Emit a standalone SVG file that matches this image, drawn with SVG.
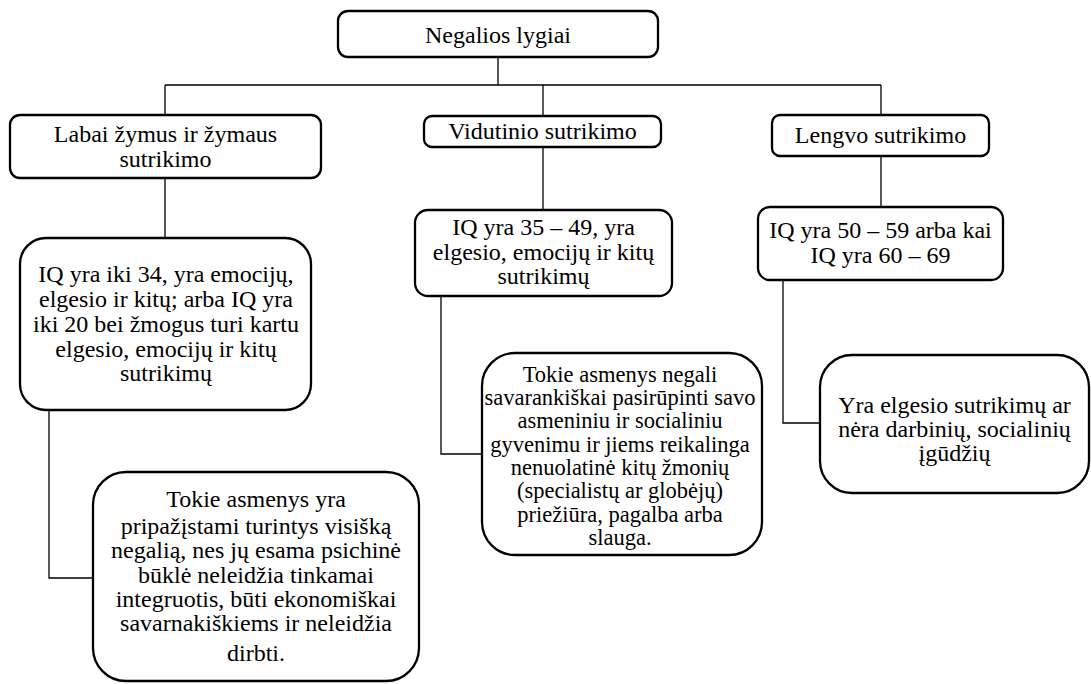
<svg xmlns="http://www.w3.org/2000/svg" width="1091" height="684" viewBox="0 0 1091 684">
<style>
.box{fill:#fff;stroke:#000;stroke-width:2.3}
.con{fill:none;stroke:#000;stroke-width:1.3}
text{font-family:'Liberation Serif',Tinos,'Times New Roman','DejaVu Serif',serif;fill:#000;text-anchor:middle;font-size:24px}
.sm{font-size:22.5px}
</style>
<rect width="1091" height="684" fill="#fff"/>
<g id="connectors">
<path class="con" d="M498 57V85M165 85H881M165 85V115M543 85V116M881 85V115"/>
<path class="con" d="M165 178V238M543 147V210M881 156V207"/>
<path class="con" d="M49 410V578H93M441 296V454H482M783 280V423H820"/>
</g>
<g id="n-root">
<rect class="box" x="338" y="11" width="320" height="46" rx="10"/>
<text x="498" y="43">Negalios lygiai</text>
</g>
<g id="n-labai">
<rect class="box" x="10" y="115" width="311" height="63" rx="10"/>
<text x="165.5" y="142">Labai žymus ir žymaus</text>
<text x="165.5" y="167">sutrikimo</text>
</g>
<g id="n-vid">
<rect class="box" x="424" y="116" width="237" height="31" rx="8"/>
<text x="542.5" y="139">Vidutinio sutrikimo</text>
</g>
<g id="n-leng">
<rect class="box" x="772" y="115" width="217" height="41" rx="8"/>
<text x="880.5" y="143">Lengvo sutrikimo</text>
</g>
<g id="n-iq1">
<rect class="box" x="20" y="238" width="291" height="172" rx="26"/>
<text x="166" y="282">IQ yra iki 34, yra emocijų,</text>
<text x="166" y="307">elgesio ir kitų; arba IQ yra</text>
<text x="166" y="332">iki 20 bei žmogus turi kartu</text>
<text x="166" y="357">elgesio, emocijų ir kitų</text>
<text x="166" y="381">sutrikimų</text>
</g>
<g id="n-iq2">
<rect class="box" x="415" y="210" width="257" height="86" rx="13"/>
<text x="543.5" y="235">IQ yra 35 – 49, yra</text>
<text x="543.5" y="260">elgesio, emocijų ir kitų</text>
<text x="543.5" y="284">sutrikimų</text>
</g>
<g id="n-iq3">
<rect class="box" x="758" y="207" width="245" height="73" rx="12"/>
<text x="880.5" y="238">IQ yra 50 – 59 arba kai</text>
<text x="880.5" y="263">IQ yra 60 – 69</text>
</g>
<g id="n-desc1">
<rect class="box" x="93" y="472" width="326" height="209" rx="33"/>
<text x="256" y="507">Tokie asmenys yra</text>
<text x="256" y="534">pripažįstami turintys visišką</text>
<text x="256" y="558">negalią, nes jų esama psichinė</text>
<text x="256" y="583">būklė neleidžia tinkamai</text>
<text x="256" y="607">integruotis, būti ekonomiškai</text>
<text x="256" y="631">savarnakiškiems ir neleidžia</text>
<text x="256" y="661">dirbti.</text>
</g>
<g id="n-desc2">
<rect class="box" x="482" y="353" width="280" height="202" rx="33"/>
<text class="sm" x="620" y="382">Tokie asmenys negali</text>
<text class="sm" x="620" y="405">savarankiškai pasirūpinti savo</text>
<text class="sm" x="620" y="428">asmeniniu ir socialiniu</text>
<text class="sm" x="620" y="452">gyvenimu ir jiems reikalinga</text>
<text class="sm" x="620" y="475">nenuolatinė kitų žmonių</text>
<text class="sm" x="620" y="498">(specialistų ar globėjų)</text>
<text class="sm" x="620" y="522">priežiūra, pagalba arba</text>
<text class="sm" x="620" y="545">slauga.</text>
</g>
<g id="n-desc3">
<rect class="box" x="820" y="355" width="269" height="138" rx="32"/>
<text x="954.5" y="413">Yra elgesio sutrikimų ar</text>
<text x="954.5" y="437">nėra darbinių, socialinių</text>
<text x="954.5" y="461">įgūdžių</text>
</g>
</svg>
